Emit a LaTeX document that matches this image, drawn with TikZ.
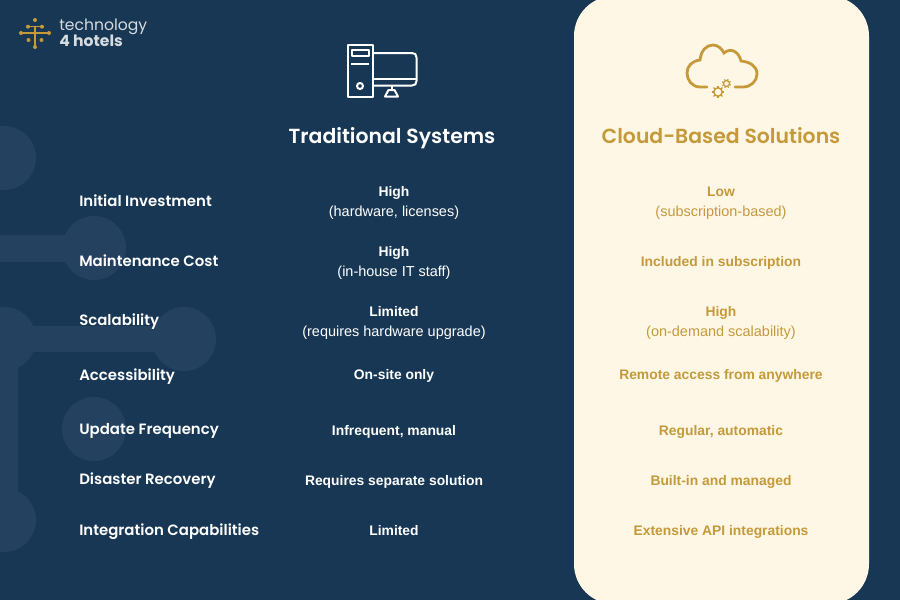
\documentclass[tikz,border=0pt]{standalone}
\usepackage{fontspec}
\setmainfont{Liberation Sans}
\newfontfamily\pop{Poppins}
\newfontfamily\popsb{Poppins SemiBold}
\definecolor{navy}{RGB}{23,55,84}
\definecolor{blob}{RGB}{36,66,95}
\definecolor{cream}{RGB}{255,247,230}
\definecolor{gold}{RGB}{196,154,58}
\definecolor{logogray}{RGB}{214,219,224}
\newcommand{\subline}[1]{{\fontsize{10.85}{15}\selectfont #1}}
\tikzset{
  rowlabel/.style={anchor=base west,text=white,font=\popsb\fontsize{11.2}{13}\selectfont,inner sep=0pt},
  trad/.style={align=center,text=white,font=\fontsize{10.4}{15}\selectfont,inner sep=0pt},
  cloudcell/.style={align=center,text=gold,font=\fontsize{10.4}{15}\selectfont,inner sep=0pt},
  head/.style={anchor=base,font=\popsb\fontsize{15.3}{18}\selectfont,inner sep=0pt},
  iconw/.style={draw=white,line width=1.5pt,line join=round},
  icong/.style={draw=gold,line width=2.1pt,line cap=round},
  logol/.style={draw=gold,line width=1pt},
  logod/.style={fill=gold,draw=none},
  gearrim/.style={draw=gold,line width=1.1pt},
  geartooth/.style={draw=gold,line width=1pt}
}
\begin{document}
\begin{tikzpicture}[x=0.75pt,y=-0.75pt]
\useasboundingbox (0,0) rectangle (900,600);
\fill[navy] (0,0) rectangle (900,600);
% background blobs
\begin{scope}
\clip (0,0) rectangle (900,600);
\fill[blob] (4,158) circle[radius=32];
\fill[blob] (94,248) circle[radius=32];
\fill[blob] (0,235) rectangle (94,262);
\fill[blob] (4,339) circle[radius=32];
\fill[blob] (184,339) circle[radius=32];
\fill[blob] (0,326) rectangle (184,352);
\fill[blob] (94,429) circle[radius=32];
\fill[blob] (-9,339) rectangle (18,520);
\fill[blob] (4,520) circle[radius=32];
\end{scope}
% cream panel
\begin{scope}
\clip (0,0) rectangle (900,600);
\fill[cream,rounded corners=30] (574,-4) rectangle (869,604);
\end{scope}
% logo
\draw[logol] (22,33) -- (48,33);
\draw[logol] (28,26.7) -- (42,26.7);
\draw[logol] (35,26.7) -- (35,46);
\foreach \p in {(35,20),(28,26.7),(42,26.7),(21,33),(49,33),(28.5,40),(41.5,40),(35,47)} \fill[logod] \p circle[radius=2];
\node[anchor=west,inner sep=0pt,text=logogray,font=\pop\fontsize{11.7}{13}\selectfont] (logoa) at (59,27) {technology};
\node[anchor=west,inner sep=0pt,text=logogray,font=\pop\fontsize{11.7}{13}\selectfont\bfseries] (logob) at (59,41) {4 hotels};
% computer icon
\draw[iconw] (347.5,45) rectangle (373,96.5);
\draw[iconw] (352,50) rectangle (369,56);
\draw[iconw] (351,64) -- (369,64);
\draw[iconw] (360,86) circle[radius=3];
\draw[iconw] (373,53) -- (412,53) .. controls (415,53) and (416.5,54.5) .. (416.5,57.5) -- (416.5,81) .. controls (416.5,84) and (415,85.5) .. (412,85.5) -- (373,85.5);
\draw[iconw] (373,79) -- (416.5,79);
\draw[iconw] (391.5,85.5) -- (391.5,90);
\draw[iconw] (388.5,90) -- (394.5,90) -- (398,96.5) -- (385,96.5) -- cycle;
% cloud icon
\draw[icong] (707,87) -- (700,87) .. controls (692,87) and (687,80) .. (687,73)
  .. controls (687,66) and (692,61) .. (700,60)
  .. controls (701,51) and (706,45) .. (713,45)
  .. controls (718,45) and (722,49) .. (724,53)
  .. controls (731,47) and (739,52) .. (741,61)
  .. controls (750,62) and (757,66) .. (757,74)
  .. controls (757,81) and (751,87) .. (743,87) -- (735,87);
\draw[gearrim] (718,92) circle[radius=4.2];
\foreach \a in {0,45,...,315} \draw[geartooth] (718,92) ++(\a:4.2) -- ++(\a:2);
\draw[gearrim,line width=.9pt] (726.5,83.5) circle[radius=3];
\foreach \a in {20,65,...,335} \draw[geartooth,line width=.8pt] (726.5,83.5) ++(\a:3) -- ++(\a:1.6);
% headings
\node[head,text=white] (h1) at (392,143.7) {Traditional Systems};
\node[head,text=gold] (h2) at (721,143.7) {Cloud-Based Solutions};
% rows
\node[rowlabel] (r1) at (79,206) {Initial Investment};
\node[rowlabel] (r2) at (79,266) {Maintenance Cost};
\node[rowlabel] (r3) at (79,325) {Scalability};
\node[rowlabel] (r4) at (79,380) {Accessibility};
\node[rowlabel] (r5) at (79,434) {Update Frequency};
\node[rowlabel] (r6) at (79,484) {Disaster Recovery};
\node[rowlabel] (r7) at (79,535) {Integration Capabilities};
\node[trad] (t1) at (394,202.5) {\textbf{High}\\\subline{(hardware, licenses)}};
\node[trad] (t2) at (394,262.5) {\textbf{High}\\\subline{(in-house IT staff)}};
\node[trad] (t3) at (394,322.5) {\textbf{Limited}\\\subline{(requires hardware upgrade)}};
\node[trad] (t4) at (394,375.7) {\textbf{On-site only}};
\node[trad] (t5) at (394,431.7) {\textbf{Infrequent, manual}};
\node[trad] (t6) at (394,481.7) {\textbf{Requires separate solution}};
\node[trad] (t7) at (394,531) {\textbf{Limited}};
\node[cloudcell] (c1) at (721,203) {\textbf{Low}\\\subline{(subscription-based)}};
\node[cloudcell] (c2) at (721,262.7) {\textbf{Included in subscription}};
\node[cloudcell] (c3) at (721,322.5) {\textbf{High}\\\subline{(on-demand scalability)}};
\node[cloudcell] (c4) at (721,375.7) {\textbf{Remote access from anywhere}};
\node[cloudcell] (c5) at (721,431.7) {\textbf{Regular, automatic}};
\node[cloudcell] (c6) at (721,481.7) {\textbf{Built-in and managed}};
\node[cloudcell] (c7) at (721,531.7) {\textbf{Extensive API integrations}};
\end{tikzpicture}
\end{document}
